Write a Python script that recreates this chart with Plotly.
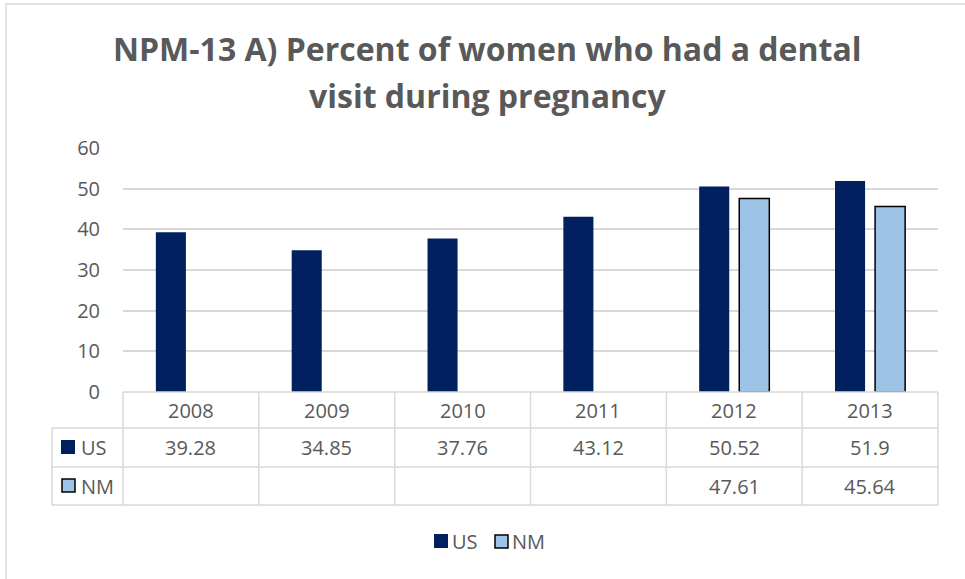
import plotly.graph_objects as go

years = ["2008", "2009", "2010", "2011", "2012", "2013"]
us_values = [39.28, 34.85, 37.76, 43.12, 50.52, 51.9]
nm_values = [None, None, None, None, 47.61, 45.64]
title_lines = ["NPM-13 A) Percent of women who had a dental", "visit during pregnancy"]

US_COLOR = "#002060"
NM_COLOR = "#9DC3E6"
GRID = "#d9d9d9"
TEXT = "#595959"
FONT = "Open Sans"

W, H = 965, 579
PL, PR, PT, PB = 123, 938, 148, 392  # plot area in pixels


def px_x(p):
    return (p - PL) / (PR - PL)


def px_y(p):
    return (PB - p) / (PB - PT)


fig = go.Figure()
fig.add_trace(
    go.Bar(x=years, y=us_values, name="US", marker=dict(color=US_COLOR, line=dict(width=0)))
)
fig.add_trace(
    go.Bar(
        x=years,
        y=nm_values,
        name="NM",
        marker=dict(color=NM_COLOR, line=dict(color="black", width=1.5)),
    )
)

shapes = []
annotations = []

# outer chart border
shapes.append(dict(type="rect", xref="paper", yref="paper",
                   x0=px_x(6), x1=px_x(W + 5), y0=px_y(4), y1=px_y(H + 5),
                   line=dict(color=GRID, width=1.5), fillcolor="rgba(0,0,0,0)"))

# data table grid
row_lines = [392, 428, 467, 505]
col_w = (PR - PL) / len(years)
left_col = 52
line_style = dict(color=GRID, width=1.5)
for i, y in enumerate(row_lines):
    x_start = PL if i == 0 else left_col
    shapes.append(dict(type="line", xref="paper", yref="paper",
                       x0=px_x(x_start), x1=px_x(PR), y0=px_y(y), y1=px_y(y), line=line_style))
for j in range(len(years) + 1):
    xp = PL + j * col_w
    shapes.append(dict(type="line", xref="paper", yref="paper",
                       x0=px_x(xp), x1=px_x(xp), y0=px_y(392), y1=px_y(505), line=line_style))
shapes.append(dict(type="line", xref="paper", yref="paper",
                   x0=px_x(left_col), x1=px_x(left_col), y0=px_y(428), y1=px_y(505), line=line_style))


def key_square(x0, y0, size, color, outline):
    line = dict(color="black", width=1.5) if outline else dict(width=0)
    shapes.append(dict(type="rect", xref="paper", yref="paper",
                       x0=px_x(x0), x1=px_x(x0 + size), y0=px_y(y0), y1=px_y(y0 + size),
                       fillcolor=color, line=line))


cell_font = dict(family=FONT, size=20, color=TEXT)

# title, two lines
for yc, line in zip([48, 95], title_lines):
    annotations.append(dict(xref="paper", yref="paper", x=px_x(487), y=px_y(yc), text=line,
                            showarrow=False, xanchor="center", yanchor="middle",
                            font=dict(family=FONT, size=32, color=TEXT, weight="bold")))

# row keys in the table
key_square(61, 440, 14, US_COLOR, False)
key_square(62, 479, 13, NM_COLOR, True)
for yc, label in [(447, "US"), (486, "NM")]:
    annotations.append(dict(xref="paper", yref="paper", x=px_x(79), y=px_y(yc), text=label,
                            showarrow=False, font=cell_font, xanchor="left", yanchor="middle"))

# table cells
rows = [(410, years), (447, us_values), (486, nm_values)]
for yc, vals in rows:
    for j, v in enumerate(vals):
        if v is None:
            continue
        annotations.append(dict(xref="paper", yref="paper", x=px_x(PL + (j + 0.5) * col_w),
                                y=px_y(yc), text=str(v), showarrow=False, font=cell_font,
                                xanchor="center", yanchor="middle"))

# legend at bottom
key_square(434, 534, 14, US_COLOR, False)
key_square(495, 535, 13, NM_COLOR, True)
for xl, label in [(450, "US"), (510, "NM")]:
    annotations.append(dict(xref="paper", yref="paper", x=px_x(xl), y=px_y(541), text=label,
                            showarrow=False, font=cell_font, xanchor="left", yanchor="middle"))

fig.update_layout(
    width=W,
    height=H,
    margin=dict(l=PL, r=W - PR, t=PT, b=H - PB, pad=0),
    paper_bgcolor="white",
    plot_bgcolor="white",
    barmode="group",
    bargap=0.41,
    bargroupgap=0.25,
    font=dict(family=FONT, color=TEXT),
    xaxis=dict(showticklabels=False, showgrid=False, zeroline=False, showline=False,
               range=[-0.5, 5.5]),
    yaxis=dict(range=[0, 60], dtick=10, showgrid=True, gridcolor=GRID, gridwidth=1.5,
               zeroline=False, showline=False, tickfont=dict(family=FONT, size=20, color=TEXT),
               ticklabelstandoff=22),
    showlegend=False,
    shapes=shapes,
    annotations=annotations,
)

fig.write_html("out.html", config={"displayModeBar": False},
               post_script="document.body.style.margin='0';")
